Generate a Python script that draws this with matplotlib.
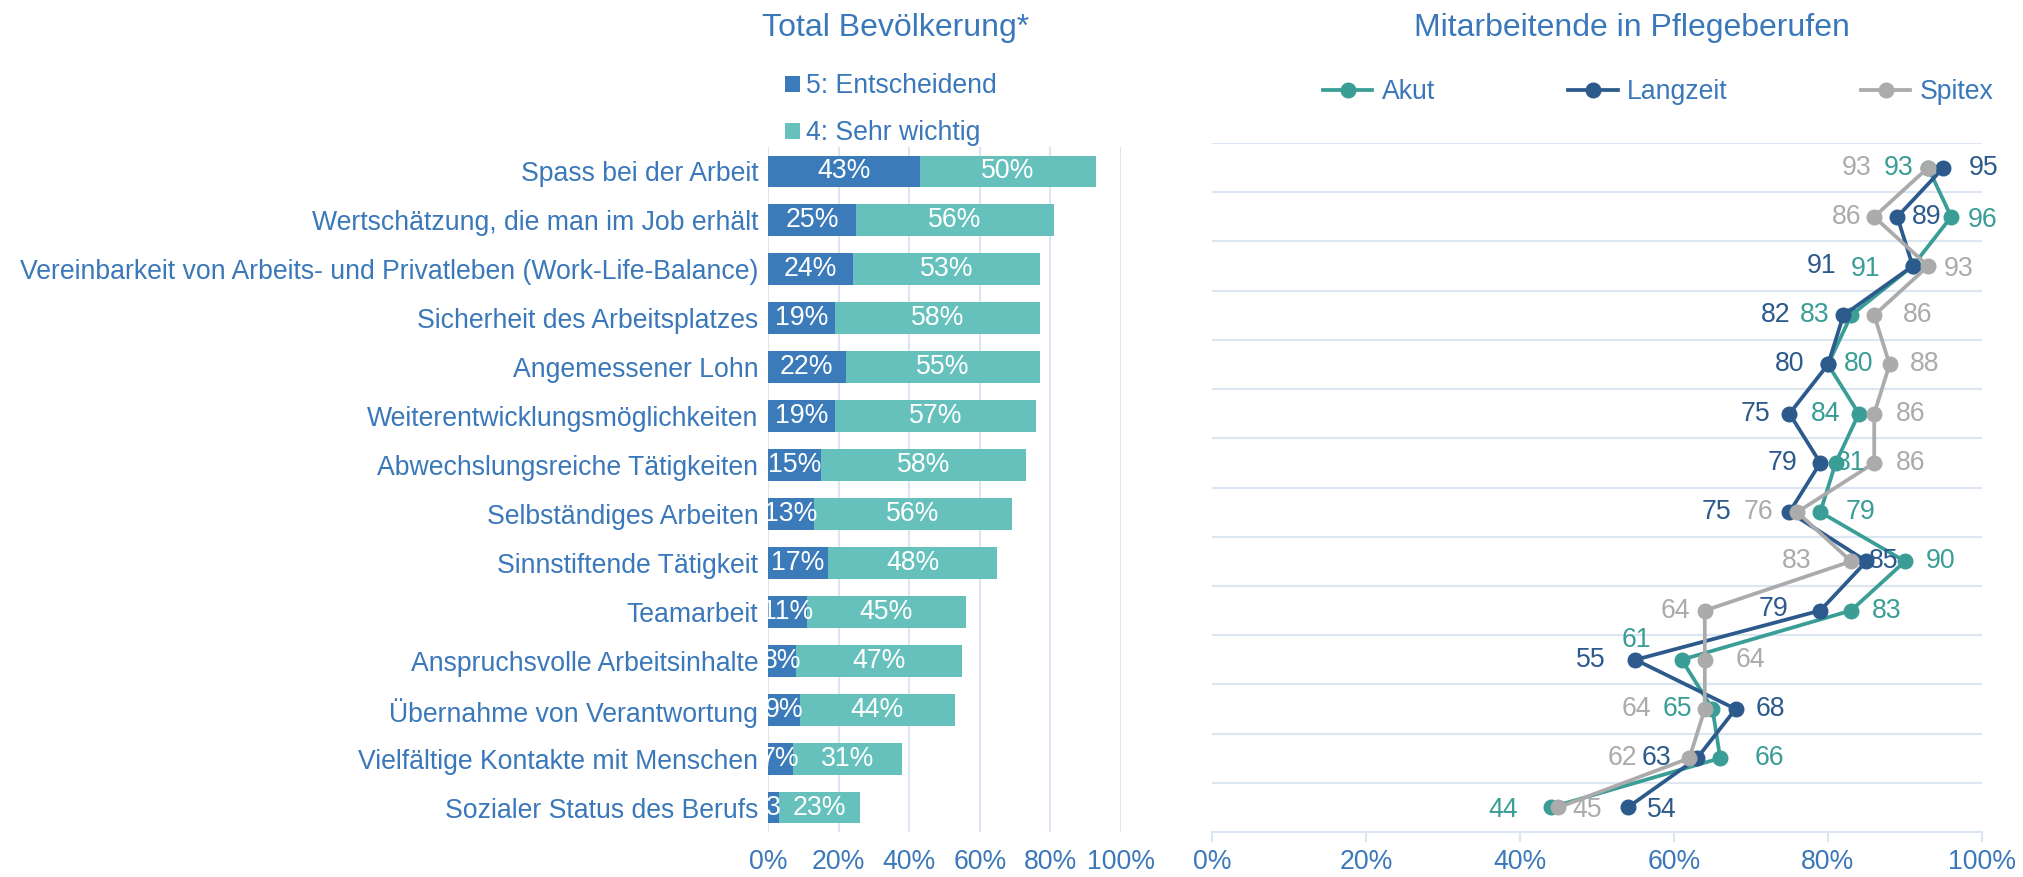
import numpy as np
import matplotlib
matplotlib.use("Agg")
import matplotlib.pyplot as plt

plt.rcParams['font.family'] = ['Liberation Sans', 'DejaVu Sans']

# --- data ---
categories = [
    "Spass bei der Arbeit",
    "Wertschätzung, die man im Job erhält",
    "Vereinbarkeit von Arbeits- und Privatleben (Work-Life-Balance)",
    "Sicherheit des Arbeitsplatzes",
    "Angemessener Lohn",
    "Weiterentwicklungsmöglichkeiten",
    "Abwechslungsreiche Tätigkeiten",
    "Selbständiges Arbeiten",
    "Sinnstiftende Tätigkeit",
    "Teamarbeit",
    "Anspruchsvolle Arbeitsinhalte",
    "Übernahme von Verantwortung",
    "Vielfältige Kontakte mit Menschen",
    "Sozialer Status des Berufs",
]
entscheidend = [43, 25, 24, 19, 22, 19, 15, 13, 17, 11, 8, 9, 7, 3]
sehr_wichtig = [50, 56, 53, 58, 55, 57, 58, 56, 48, 45, 47, 44, 31, 23]

akut = [93, 96, 91, 83, 80, 84, 81, 79, 90, 83, 61, 65, 66, 44]
langzeit = [95, 89, 91, 82, 80, 75, 79, 75, 85, 79, 55, 68, 63, 54]
spitex = [93, 86, 93, 86, 88, 86, 86, 76, 83, 64, 64, 64, 62, 45]

ticks = [0, 20, 40, 60, 80, 100]

# label offsets (pixels) for the right chart
akut_dx = [-29, 31, -47, -36, 31, -33, 15, 40, 36, 36, -45, -35, 49, -48]
akut_dy = [0, -3, -3, 0, 0, 0, 0, 0, 0, 0, 20, 0, 0, -3]
langzeit_dx = [40, 29, -91, -68, -38, -34, -38, -73, 17, -47, -45, 35, -41, 34]
langzeit_dy = [0, 0, 0, 0, 0, 0, 0, 0, 0, 2, 0, 0, 0, -3]
spitex_dx = [-71, -28, 31, 43, 35, 36, 36, -39, -54, -29, 46, -68, -67, 29]
spitex_dy = [0, 0, -3, 0, 0, 0, 0, 0, 0, 0, 0, 0, 0, -3]

# --- style ---
TXT = "#3B78BA"
GRID = "#DCE6F2"
DARK = "#3B7BBA"
TEAL = "#66C1BC"
C_AKUT = "#3A9D96"
C_LANG = "#2C5A8C"
C_SPIT = "#ABABAB"
FS = 19.2

W, H = 2024, 877
fig = plt.figure(figsize=(W / 100, H / 100), dpi=100)

# ================= left: Total Bevölkerung =================
ax1 = fig.add_axes([768 / W, 1 - 832 / H, 353 / W, (832 - 147) / H])
y = np.arange(len(categories))
b1 = ax1.barh(y, entscheidend, height=0.65, color=DARK, label="5: Entscheidend", zorder=2)
b2 = ax1.barh(y, sehr_wichtig, left=entscheidend, height=0.65, color=TEAL,
              label="4: Sehr wichtig", zorder=2)

for i in range(len(categories)):
    e, s = entscheidend[i], sehr_wichtig[i]
    t = f"{e}%" if e >= 5 else f"{e}"
    ax1.text(e / 2, i, t, ha="center", va="center", color="white", fontsize=FS,
             zorder=4, clip_on=True)
    ax1.text(e + s / 2, i, f"{s}%", ha="center", va="center", color="white",
             fontsize=FS, zorder=4, clip_on=True)

ax1.set_xlim(0, 100)
ax1.set_ylim(len(categories) - 0.5, -0.5)
ax1.set_xticks(ticks)
ax1.set_xticklabels([f"{t}%" for t in ticks])
ax1.set_yticks(y)
ax1.set_yticklabels(categories)
ax1.tick_params(axis="both", length=0, labelcolor=TXT, labelsize=FS)
ax1.tick_params(axis="y", pad=7)
ax1.tick_params(axis="x", pad=12)
ax1.grid(axis="x", color=GRID, linewidth=1.5, zorder=0)
for sp in ax1.spines.values():
    sp.set_visible(False)

fig.legend(handles=[b1, b2], loc="upper left", bbox_to_anchor=(785 / W, 1 - 73 / H),
           frameon=False, fontsize=FS, labelcolor=TXT, handlelength=0.55,
           handleheight=0.55, handletextpad=0.25, labelspacing=0.8, borderpad=0,
           borderaxespad=0)
fig.text(896 / W, 1 - 28 / H, "Total Bevölkerung*", ha="center", va="center",
         fontsize=23, color=TXT)

# ================= right: Mitarbeitende in Pflegeberufen =================
ax2 = fig.add_axes([1212 / W, 1 - 832 / H, 770 / W, (832 - 143) / H])
series = [
    ("Akut", akut, C_AKUT, akut_dx, akut_dy),
    ("Langzeit", langzeit, C_LANG, langzeit_dx, langzeit_dy),
    ("Spitex", spitex, C_SPIT, spitex_dx, spitex_dy),
]
handles = []
for k, (name, vals, col, dxs, dys) in enumerate(series):
    h, = ax2.plot(vals, y, color=col, linewidth=2.7, marker="o", markersize=10.5,
                  label=name, zorder=3 + k, clip_on=False)
    handles.append(h)
    for i, v in enumerate(vals):
        ax2.annotate(str(v), (v, i), xytext=(dxs[i], dys[i]), textcoords="offset pixels",
                     ha="center", va="center", color=col, fontsize=FS, zorder=10)

ax2.set_xlim(0, 100)
ax2.set_ylim(len(categories) - 0.5, -0.5)
ax2.set_xticks(ticks)
ax2.set_xticklabels([f"{t}%" for t in ticks])
ax2.set_yticks([])
ax2.set_yticks(np.arange(len(categories)) - 0.5, minor=True)
ax2.tick_params(axis="y", which="both", length=0)
ax2.tick_params(axis="x", length=7, width=1.5, color=GRID, labelcolor=TXT,
                labelsize=FS, pad=5)
ax2.grid(axis="y", which="minor", color=GRID, linewidth=1.5, zorder=0)
for sp in ["top", "left", "right"]:
    ax2.spines[sp].set_visible(False)
ax2.spines["bottom"].set_color(GRID)
ax2.spines["bottom"].set_linewidth(1.5)

fig.legend(handles=handles, loc="center left", bbox_to_anchor=(1323 / W, 1 - 92 / H),
           frameon=False, fontsize=FS, labelcolor=TXT, ncol=3, handlelength=1.85,
           handletextpad=0.35, columnspacing=5.0, borderpad=0, borderaxespad=0)
fig.text(1632 / W, 1 - 28 / H, "Mitarbeitende in Pflegeberufen", ha="center",
         va="center", fontsize=23, color=TXT)

fig.savefig("out.png", dpi=100)
